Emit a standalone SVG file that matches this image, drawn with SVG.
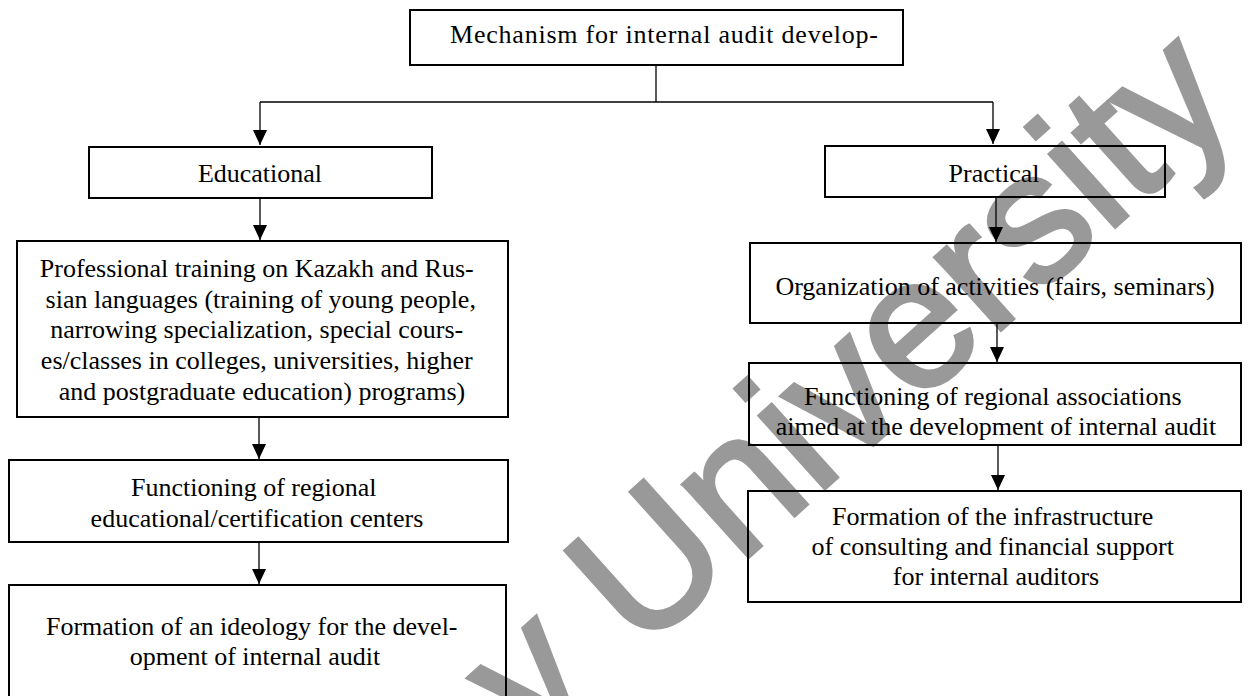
<svg xmlns="http://www.w3.org/2000/svg" width="1248" height="696" viewBox="0 0 1248 696">
  <defs>
    <marker id="arr" markerUnits="userSpaceOnUse" markerWidth="14" markerHeight="16" refX="7" refY="15" orient="0">
      <path d="M0,0 L14,0 L7,15 z" fill="#000"/>
    </marker>
    <style>
      .box { fill: none; stroke: #000; stroke-width: 2; }
      .lbl { font-family: "Liberation Serif", "Times New Roman", serif; font-size: 26px; fill: #000; text-anchor: middle; }
      .conn { fill: none; stroke: #000; stroke-width: 1.3; }
      .wm { font-family: "Liberation Sans", Arial, sans-serif; font-size: 185px; fill: #999999; stroke: #999999; stroke-width: 4; stroke-linejoin: miter; }
    </style>
  </defs>
  <rect width="1248" height="696" fill="#fff"/>

  <g id="watermark">
    <text class="wm" transform="translate(533,751) rotate(-42)" x="0" y="0">y University</text>
  </g>

  <g id="connectors">
    <line class="conn" x1="656" y1="65" x2="656" y2="102"/>
    <line class="conn" x1="260" y1="102" x2="993" y2="102"/>
    <line class="conn" x1="260" y1="102" x2="260" y2="145" marker-end="url(#arr)"/>
    <line class="conn" x1="993" y1="102" x2="993" y2="144" marker-end="url(#arr)"/>
    <line class="conn" x1="260" y1="198" x2="260" y2="240" marker-end="url(#arr)"/>
    <line class="conn" x1="259" y1="417" x2="259" y2="459" marker-end="url(#arr)"/>
    <line class="conn" x1="259" y1="542" x2="259" y2="584" marker-end="url(#arr)"/>
    <line class="conn" x1="996" y1="197" x2="996" y2="242" marker-end="url(#arr)"/>
    <line class="conn" x1="997" y1="323" x2="997" y2="362" marker-end="url(#arr)"/>
    <line class="conn" x1="998" y1="445" x2="998" y2="490" marker-end="url(#arr)"/>
  </g>

  <g id="mechanism">
    <rect class="box" x="410" y="10" width="493" height="55"/>
    <text class="lbl" x="450" y="43" style="text-anchor:start" textLength="428" lengthAdjust="spacing">Mechanism for internal audit develop-</text>
  </g>

  <g id="educational">
    <rect class="box" x="89" y="147" width="343" height="51"/>
    <text class="lbl" x="260" y="182">Educational</text>
  </g>

  <g id="professional-training">
    <rect class="box" x="17" y="241" width="491" height="176"/>
    <text class="lbl" x="260">
      <tspan x="260" y="277">Professional training on Kazakh and Rus-</tspan>
      <tspan x="264" y="308">sian languages (training of young people,</tspan>
      <tspan x="260" y="338">narrowing specialization, special cours-</tspan>
      <tspan x="260" y="369">es/classes in colleges, universities, higher</tspan>
      <tspan x="262" y="400">and postgraduate education) programs)</tspan>
    </text>
  </g>

  <g id="regional-centers">
    <rect class="box" x="9" y="460" width="499" height="82"/>
    <text class="lbl">
      <tspan x="257" y="496">Functioning of regional</tspan>
      <tspan x="257" y="527">educational/certification centers</tspan>
    </text>
  </g>

  <g id="ideology">
    <rect class="box" x="9" y="585" width="497" height="130"/>
    <text class="lbl">
      <tspan x="255" y="635">Formation of an ideology for the devel-</tspan>
      <tspan x="255" y="665">opment of internal audit</tspan>
    </text>
  </g>

  <g id="practical">
    <rect class="box" x="825" y="146" width="340" height="51"/>
    <text class="lbl" x="994" y="182">Practical</text>
  </g>

  <g id="activities">
    <rect class="box" x="750" y="243" width="491" height="80"/>
    <text class="lbl" x="995" y="295">Organization of activities (fairs, seminars)</text>
  </g>

  <g id="associations">
    <rect class="box" x="749" y="363" width="492" height="82"/>
    <text class="lbl">
      <tspan x="996" y="405">Functioning of regional associations</tspan>
      <tspan x="996" y="435">aimed at the development of internal audit</tspan>
    </text>
  </g>

  <g id="infrastructure">
    <rect class="box" x="748" y="491" width="493" height="111"/>
    <text class="lbl">
      <tspan x="996" y="525">Formation of the infrastructure</tspan>
      <tspan x="996" y="555">of consulting and financial support</tspan>
      <tspan x="996" y="585">for internal auditors</tspan>
    </text>
  </g>
</svg>
